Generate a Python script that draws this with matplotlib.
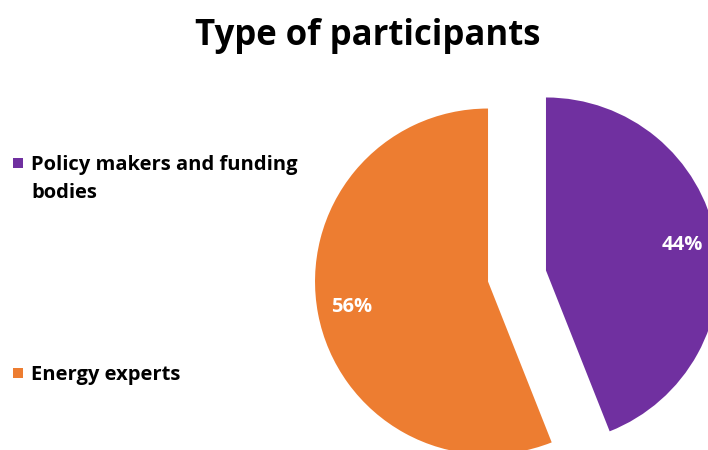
import matplotlib.pyplot as plt
from matplotlib.patches import Rectangle

# Survey breakdown
categories = ["Policy makers and funding bodies", "Energy experts"]
legend_lines = ["Policy makers and funding\nbodies", "Energy experts"]
shares = [44, 56]
colors = ["#7030A0", "#ED7D31"]

plt.rcParams['font.family'] = ['Open Sans', 'DejaVu Sans']

W, H = 708, 450
fig = plt.figure(figsize=(W / 100, H / 100), dpi=100)
fig.patch.set_facecolor('white')

# axes spanning the whole figure, one data unit per pixel
ax = fig.add_axes([0, 0, 1, 1])
R = 173
wedges, texts, autotexts = ax.pie(
    shares, colors=colors, startangle=90, counterclock=False,
    center=(517, H - 276), radius=R, explode=[29.5, 29.5],
    autopct='%1.0f%%', pctdistance=0.80,
    wedgeprops=dict(linewidth=0),
    textprops=dict(color='white', fontsize=14.5, fontweight='bold'))
ax.set_xlim(0, W)
ax.set_ylim(0, H)
ax.set_aspect('equal', adjustable='box')
ax.axis('off')

fig.text(368 / W, 1 - 36 / H, "Type of participants", ha='center', va='center',
         fontsize=25, fontweight='bold', color='black')

# hand-placed legend on the left
legend_y = [163, 373]
for label, color, y in zip(legend_lines, colors, legend_y):
    fig.patches.append(Rectangle((13 / W, 1 - (y + 5) / H), 10 / W, 10 / H,
                                 transform=fig.transFigure, facecolor=color,
                                 edgecolor='none'))
    fig.text(31 / W, 1 - (y - 8) / H, label, ha='left', va='top',
             fontsize=14.5, fontweight='bold', color='black', linespacing=1.52)

fig.savefig('out.png', dpi=100)
